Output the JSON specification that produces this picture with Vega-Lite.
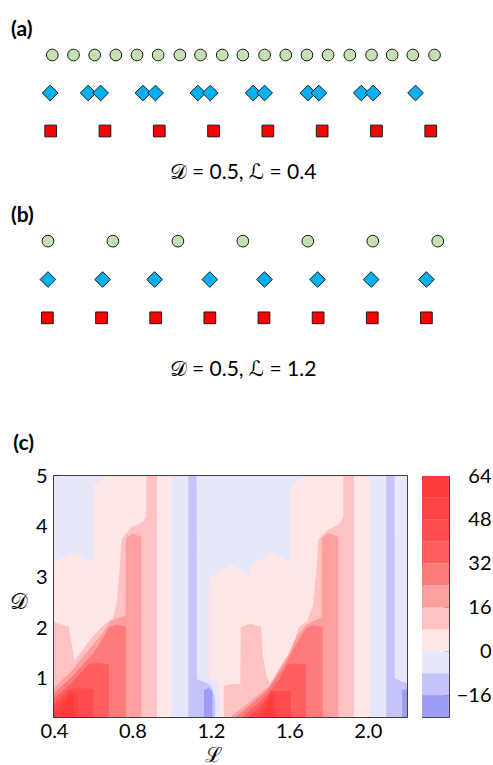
{
  "$schema": "https://vega.github.io/schema/vega-lite/v6.json",
  "padding": {"left": 8, "top": 19, "right": 0, "bottom": 0},
  "config": {
    "view": {"stroke": null},
    "font": "Lato",
    "axis": {"labelFont": "Lato", "titleFont": "Lato", "grid": false, "labelColor": "black", "titleColor": "black"},
    "title": {"font": "Lato", "fontWeight": "bold", "fontSize": 21, "anchor": "start", "color": "black"}
  },
  "datasets": {
    "a": [
      {"kind": "circle", "pos": 0.03}, {"kind": "circle", "pos": 0.42}, {"kind": "circle", "pos": 0.81}, {"kind": "circle", "pos": 1.2},
      {"kind": "circle", "pos": 1.59}, {"kind": "circle", "pos": 1.98}, {"kind": "circle", "pos": 2.38}, {"kind": "circle", "pos": 2.76},
      {"kind": "circle", "pos": 3.16}, {"kind": "circle", "pos": 3.54}, {"kind": "circle", "pos": 3.94}, {"kind": "circle", "pos": 4.33},
      {"kind": "circle", "pos": 4.72}, {"kind": "circle", "pos": 5.11}, {"kind": "circle", "pos": 5.51}, {"kind": "circle", "pos": 5.91},
      {"kind": "circle", "pos": 6.29}, {"kind": "circle", "pos": 6.67}, {"kind": "circle", "pos": 7.07},
      {"kind": "diamond", "pos": -0.01}, {"kind": "diamond", "pos": 0.69}, {"kind": "diamond", "pos": 0.92}, {"kind": "diamond", "pos": 1.7},
      {"kind": "diamond", "pos": 1.93}, {"kind": "diamond", "pos": 2.71}, {"kind": "diamond", "pos": 2.94}, {"kind": "diamond", "pos": 3.73},
      {"kind": "diamond", "pos": 3.94}, {"kind": "diamond", "pos": 4.74}, {"kind": "diamond", "pos": 4.94}, {"kind": "diamond", "pos": 5.72},
      {"kind": "diamond", "pos": 5.94}, {"kind": "diamond", "pos": 6.72},
      {"kind": "square", "pos": 0}, {"kind": "square", "pos": 1}, {"kind": "square", "pos": 2}, {"kind": "square", "pos": 3},
      {"kind": "square", "pos": 4}, {"kind": "square", "pos": 5}, {"kind": "square", "pos": 6}, {"kind": "square", "pos": 7}
    ],
    "b": [
      {"kind": "circle", "pos": 0.01}, {"kind": "circle", "pos": 1.21}, {"kind": "circle", "pos": 2.41}, {"kind": "circle", "pos": 3.61},
      {"kind": "circle", "pos": 4.81}, {"kind": "circle", "pos": 6.01}, {"kind": "circle", "pos": 7.21},
      {"kind": "diamond", "pos": 0.01}, {"kind": "diamond", "pos": 1.02}, {"kind": "diamond", "pos": 1.98}, {"kind": "diamond", "pos": 3.0},
      {"kind": "diamond", "pos": 4.01}, {"kind": "diamond", "pos": 4.99}, {"kind": "diamond", "pos": 5.98}, {"kind": "diamond", "pos": 7.0},
      {"kind": "square", "pos": 0}, {"kind": "square", "pos": 1}, {"kind": "square", "pos": 2}, {"kind": "square", "pos": 3},
      {"kind": "square", "pos": 4}, {"kind": "square", "pos": 5}, {"kind": "square", "pos": 6}, {"kind": "square", "pos": 7}
    ],
    "bar": [
      {"lvl": -24, "lo": -24, "hi": -16}, {"lvl": -16, "lo": -16, "hi": -8}, {"lvl": -8, "lo": -8, "hi": 0},
      {"lvl": 0, "lo": 0, "hi": 8}, {"lvl": 8, "lo": 8, "hi": 16}, {"lvl": 16, "lo": 16, "hi": 24},
      {"lvl": 24, "lo": 24, "hi": 32}, {"lvl": 32, "lo": 32, "hi": 40}, {"lvl": 40, "lo": 40, "hi": 48},
      {"lvl": 48, "lo": 48, "hi": 56}, {"lvl": 56, "lo": 56, "hi": 64}
    ],
    "contour": [
      {"r": "bg", "lvl": -8, "x": 0.4, "t": 5, "b": 0.25}, {"r": "bg", "lvl": -8, "x": 2.2, "t": 5, "b": 0.25},

      {"r": "b1", "lvl": -16, "x": 1.085, "t": 5, "b": 0.25}, {"r": "b1", "lvl": -16, "x": 1.127, "t": 5, "b": 0.25},
      {"r": "b1", "lvl": -16, "x": 1.128, "t": 1.0, "b": 0.25}, {"r": "b1", "lvl": -16, "x": 1.16, "t": 0.95, "b": 0.25},
      {"r": "b1", "lvl": -16, "x": 1.19, "t": 0.9, "b": 0.25}, {"r": "b1", "lvl": -16, "x": 1.205, "t": 0.82, "b": 0.25},
      {"r": "b1", "lvl": -16, "x": 1.222, "t": 0.6, "b": 0.25},
      {"r": "b2", "lvl": -16, "x": 2.094, "t": 5, "b": 0.25}, {"r": "b2", "lvl": -16, "x": 2.137, "t": 5, "b": 0.25},
      {"r": "b2", "lvl": -16, "x": 2.138, "t": 1.02, "b": 0.25}, {"r": "b2", "lvl": -16, "x": 2.17, "t": 0.95, "b": 0.25},
      {"r": "b2", "lvl": -16, "x": 2.2, "t": 0.92, "b": 0.25},

      {"r": "d1", "lvl": -24, "x": 1.165, "t": 0.78, "b": 0.25}, {"r": "d1", "lvl": -24, "x": 1.19, "t": 0.82, "b": 0.25},
      {"r": "d1", "lvl": -24, "x": 1.208, "t": 0.75, "b": 0.25},
      {"r": "d2", "lvl": -24, "x": 2.175, "t": 0.78, "b": 0.25}, {"r": "d2", "lvl": -24, "x": 2.2, "t": 0.8, "b": 0.25},

      {"r": "p0a", "lvl": 0, "x": 0.4, "t": 3.3, "b": 0.25}, {"r": "p0a", "lvl": 0, "x": 0.5, "t": 3.5, "b": 0.25},
      {"r": "p0a", "lvl": 0, "x": 0.6, "t": 3.3, "b": 0.25}, {"r": "p0a", "lvl": 0, "x": 0.601, "t": 4.8, "b": 0.25},
      {"r": "p0a", "lvl": 0, "x": 0.67, "t": 5, "b": 0.25}, {"r": "p0a", "lvl": 0, "x": 1.0, "t": 5, "b": 0.25},
      {"r": "p0b", "lvl": 0, "x": 1.19, "t": 2.95, "b": 1.04}, {"r": "p0b", "lvl": 0, "x": 1.205, "t": 3.03, "b": 1.0},
      {"r": "p0b", "lvl": 0, "x": 1.243, "t": 3.11, "b": 0.91}, {"r": "p0b", "lvl": 0, "x": 1.246, "t": 3.12, "b": 0.25},
      {"r": "p0b", "lvl": 0, "x": 1.306, "t": 3.25, "b": 0.25}, {"r": "p0b", "lvl": 0, "x": 1.4, "t": 3.05, "b": 0.25},
      {"r": "p0b", "lvl": 0, "x": 1.402, "t": 3.25, "b": 0.25}, {"r": "p0b", "lvl": 0, "x": 1.518, "t": 3.49, "b": 0.25},
      {"r": "p0b", "lvl": 0, "x": 1.604, "t": 3.29, "b": 0.25}, {"r": "p0b", "lvl": 0, "x": 1.605, "t": 4.8, "b": 0.25},
      {"r": "p0b", "lvl": 0, "x": 1.68, "t": 5, "b": 0.25}, {"r": "p0b", "lvl": 0, "x": 2.009, "t": 5, "b": 0.25},

      {"r": "p8a", "lvl": 8, "x": 0.4, "t": 2.12, "b": 0.25}, {"r": "p8a", "lvl": 8, "x": 0.475, "t": 2.03, "b": 0.25},
      {"r": "p8a", "lvl": 8, "x": 0.505, "t": 1.35, "b": 0.25}, {"r": "p8a", "lvl": 8, "x": 0.55, "t": 1.6, "b": 0.25},
      {"r": "p8a", "lvl": 8, "x": 0.6, "t": 1.85, "b": 0.25}, {"r": "p8a", "lvl": 8, "x": 0.65, "t": 2.05, "b": 0.25},
      {"r": "p8a", "lvl": 8, "x": 0.7, "t": 2.2, "b": 0.25}, {"r": "p8a", "lvl": 8, "x": 0.72, "t": 2.5, "b": 0.25},
      {"r": "p8a", "lvl": 8, "x": 0.735, "t": 3.2, "b": 0.25}, {"r": "p8a", "lvl": 8, "x": 0.745, "t": 3.75, "b": 0.25},
      {"r": "p8a", "lvl": 8, "x": 0.79, "t": 3.98, "b": 0.25}, {"r": "p8a", "lvl": 8, "x": 0.855, "t": 4.1, "b": 0.25},
      {"r": "p8a", "lvl": 8, "x": 0.87, "t": 4.2, "b": 0.25}, {"r": "p8a", "lvl": 8, "x": 0.871, "t": 5, "b": 0.25},
      {"r": "p8a", "lvl": 8, "x": 0.925, "t": 5, "b": 0.25},
      {"r": "p8b", "lvl": 8, "x": 1.266, "t": 0.86, "b": 0.25}, {"r": "p8b", "lvl": 8, "x": 1.3, "t": 0.9, "b": 0.25},
      {"r": "p8b", "lvl": 8, "x": 1.35, "t": 0.9, "b": 0.25}, {"r": "p8b", "lvl": 8, "x": 1.352, "t": 2.03, "b": 0.25},
      {"r": "p8b", "lvl": 8, "x": 1.404, "t": 2.09, "b": 0.25}, {"r": "p8b", "lvl": 8, "x": 1.456, "t": 2.03, "b": 0.25},
      {"r": "p8b", "lvl": 8, "x": 1.465, "t": 1.45, "b": 0.25}, {"r": "p8b", "lvl": 8, "x": 1.485, "t": 1.05, "b": 0.25},
      {"r": "p8b", "lvl": 8, "x": 1.5, "t": 0.9, "b": 0.25}, {"r": "p8b", "lvl": 8, "x": 1.59, "t": 1.45, "b": 0.25},
      {"r": "p8b", "lvl": 8, "x": 1.63, "t": 1.8, "b": 0.25}, {"r": "p8b", "lvl": 8, "x": 1.65, "t": 2.03, "b": 0.25},
      {"r": "p8b", "lvl": 8, "x": 1.69, "t": 2.14, "b": 0.25}, {"r": "p8b", "lvl": 8, "x": 1.72, "t": 2.45, "b": 0.25},
      {"r": "p8b", "lvl": 8, "x": 1.737, "t": 3.1, "b": 0.25}, {"r": "p8b", "lvl": 8, "x": 1.748, "t": 3.75, "b": 0.25},
      {"r": "p8b", "lvl": 8, "x": 1.8, "t": 3.95, "b": 0.25}, {"r": "p8b", "lvl": 8, "x": 1.855, "t": 4.05, "b": 0.25},
      {"r": "p8b", "lvl": 8, "x": 1.875, "t": 4.2, "b": 0.25}, {"r": "p8b", "lvl": 8, "x": 1.876, "t": 5, "b": 0.25},
      {"r": "p8b", "lvl": 8, "x": 1.929, "t": 5, "b": 0.25},

      {"r": "p16a", "lvl": 16, "x": 0.4, "t": 0.82, "b": 0.25}, {"r": "p16a", "lvl": 16, "x": 0.5, "t": 1.2, "b": 0.25},
      {"r": "p16a", "lvl": 16, "x": 0.55, "t": 1.45, "b": 0.25}, {"r": "p16a", "lvl": 16, "x": 0.6, "t": 1.68, "b": 0.25},
      {"r": "p16a", "lvl": 16, "x": 0.65, "t": 1.92, "b": 0.25}, {"r": "p16a", "lvl": 16, "x": 0.69, "t": 2.14, "b": 0.25},
      {"r": "p16a", "lvl": 16, "x": 0.765, "t": 2.25, "b": 0.25}, {"r": "p16a", "lvl": 16, "x": 0.766, "t": 3.78, "b": 0.25},
      {"r": "p16a", "lvl": 16, "x": 0.8, "t": 3.87, "b": 0.25}, {"r": "p16a", "lvl": 16, "x": 0.845, "t": 3.8, "b": 0.25},
      {"r": "p16b", "lvl": 16, "x": 1.3, "t": 0.25, "b": 0.25}, {"r": "p16b", "lvl": 16, "x": 1.4, "t": 0.55, "b": 0.25},
      {"r": "p16b", "lvl": 16, "x": 1.47, "t": 0.78, "b": 0.25}, {"r": "p16b", "lvl": 16, "x": 1.5, "t": 0.85, "b": 0.25},
      {"r": "p16b", "lvl": 16, "x": 1.55, "t": 1.2, "b": 0.25}, {"r": "p16b", "lvl": 16, "x": 1.6, "t": 1.5, "b": 0.25},
      {"r": "p16b", "lvl": 16, "x": 1.64, "t": 1.85, "b": 0.25}, {"r": "p16b", "lvl": 16, "x": 1.69, "t": 2.08, "b": 0.25},
      {"r": "p16b", "lvl": 16, "x": 1.765, "t": 2.22, "b": 0.25}, {"r": "p16b", "lvl": 16, "x": 1.766, "t": 3.78, "b": 0.25},
      {"r": "p16b", "lvl": 16, "x": 1.8, "t": 3.87, "b": 0.25}, {"r": "p16b", "lvl": 16, "x": 1.85, "t": 3.8, "b": 0.25},

      {"r": "p24a", "lvl": 24, "x": 0.4, "t": 0.72, "b": 0.25}, {"r": "p24a", "lvl": 24, "x": 0.5, "t": 1.08, "b": 0.25},
      {"r": "p24a", "lvl": 24, "x": 0.55, "t": 1.3, "b": 0.25}, {"r": "p24a", "lvl": 24, "x": 0.6, "t": 1.5, "b": 0.25},
      {"r": "p24a", "lvl": 24, "x": 0.64, "t": 1.75, "b": 0.25}, {"r": "p24a", "lvl": 24, "x": 0.68, "t": 2.02, "b": 0.25},
      {"r": "p24a", "lvl": 24, "x": 0.72, "t": 2.07, "b": 0.25}, {"r": "p24a", "lvl": 24, "x": 0.766, "t": 2.03, "b": 0.25},
      {"r": "p24b", "lvl": 24, "x": 1.33, "t": 0.25, "b": 0.25}, {"r": "p24b", "lvl": 24, "x": 1.42, "t": 0.55, "b": 0.25},
      {"r": "p24b", "lvl": 24, "x": 1.48, "t": 0.75, "b": 0.25}, {"r": "p24b", "lvl": 24, "x": 1.53, "t": 1.0, "b": 0.25},
      {"r": "p24b", "lvl": 24, "x": 1.58, "t": 1.3, "b": 0.25}, {"r": "p24b", "lvl": 24, "x": 1.63, "t": 1.65, "b": 0.25},
      {"r": "p24b", "lvl": 24, "x": 1.685, "t": 2.0, "b": 0.25}, {"r": "p24b", "lvl": 24, "x": 1.72, "t": 2.06, "b": 0.25},
      {"r": "p24b", "lvl": 24, "x": 1.77, "t": 2.02, "b": 0.25},

      {"r": "p32a", "lvl": 32, "x": 0.4, "t": 0.62, "b": 0.25}, {"r": "p32a", "lvl": 32, "x": 0.47, "t": 0.85, "b": 0.25},
      {"r": "p32a", "lvl": 32, "x": 0.52, "t": 1.05, "b": 0.25}, {"r": "p32a", "lvl": 32, "x": 0.56, "t": 1.22, "b": 0.25},
      {"r": "p32a", "lvl": 32, "x": 0.578, "t": 1.3, "b": 0.25}, {"r": "p32a", "lvl": 32, "x": 0.63, "t": 1.32, "b": 0.25},
      {"r": "p32a", "lvl": 32, "x": 0.68, "t": 1.28, "b": 0.25},
      {"r": "p32b", "lvl": 32, "x": 1.36, "t": 0.25, "b": 0.25}, {"r": "p32b", "lvl": 32, "x": 1.45, "t": 0.55, "b": 0.25},
      {"r": "p32b", "lvl": 32, "x": 1.5, "t": 0.75, "b": 0.25}, {"r": "p32b", "lvl": 32, "x": 1.55, "t": 1.0, "b": 0.25},
      {"r": "p32b", "lvl": 32, "x": 1.587, "t": 1.28, "b": 0.25}, {"r": "p32b", "lvl": 32, "x": 1.63, "t": 1.31, "b": 0.25},
      {"r": "p32b", "lvl": 32, "x": 1.685, "t": 1.28, "b": 0.25},

      {"r": "p40a", "lvl": 40, "x": 0.4, "t": 0.5, "b": 0.25}, {"r": "p40a", "lvl": 40, "x": 0.44, "t": 0.65, "b": 0.25},
      {"r": "p40a", "lvl": 40, "x": 0.47, "t": 0.78, "b": 0.25}, {"r": "p40a", "lvl": 40, "x": 0.5, "t": 0.82, "b": 0.25},
      {"r": "p40a", "lvl": 40, "x": 0.6, "t": 0.8, "b": 0.25},
      {"r": "p40b", "lvl": 40, "x": 1.39, "t": 0.25, "b": 0.25}, {"r": "p40b", "lvl": 40, "x": 1.45, "t": 0.45, "b": 0.25},
      {"r": "p40b", "lvl": 40, "x": 1.49, "t": 0.65, "b": 0.25}, {"r": "p40b", "lvl": 40, "x": 1.505, "t": 0.76, "b": 0.25},
      {"r": "p40b", "lvl": 40, "x": 1.608, "t": 0.76, "b": 0.25},

      {"r": "p48a", "lvl": 48, "x": 0.4, "t": 0.42, "b": 0.25}, {"r": "p48a", "lvl": 48, "x": 0.45, "t": 0.6, "b": 0.25},
      {"r": "p48a", "lvl": 48, "x": 0.48, "t": 0.76, "b": 0.25}, {"r": "p48a", "lvl": 48, "x": 0.52, "t": 0.76, "b": 0.25},
      {"r": "p48b", "lvl": 48, "x": 1.42, "t": 0.25, "b": 0.25}, {"r": "p48b", "lvl": 48, "x": 1.47, "t": 0.45, "b": 0.25},
      {"r": "p48b", "lvl": 48, "x": 1.5, "t": 0.7, "b": 0.25}, {"r": "p48b", "lvl": 48, "x": 1.53, "t": 0.74, "b": 0.25},

      {"r": "p56a", "lvl": 56, "x": 0.4, "t": 0.33, "b": 0.25}, {"r": "p56a", "lvl": 56, "x": 0.45, "t": 0.5, "b": 0.25},
      {"r": "p56a", "lvl": 56, "x": 0.48, "t": 0.7, "b": 0.25}, {"r": "p56a", "lvl": 56, "x": 0.5, "t": 0.7, "b": 0.25},
      {"r": "p56b", "lvl": 56, "x": 1.45, "t": 0.25, "b": 0.25}, {"r": "p56b", "lvl": 56, "x": 1.49, "t": 0.5, "b": 0.25},
      {"r": "p56b", "lvl": 56, "x": 1.5, "t": 0.68, "b": 0.25}, {"r": "p56b", "lvl": 56, "x": 1.515, "t": 0.68, "b": 0.25}
    ]
  },
  "spacing": 54,
  "vconcat": [
    {
      "spacing": 23,
      "vconcat": [
        {
          "title": {"text": "(a)", "frame": "group", "dx": -43, "offset": -4},
          "width": 377,
          "height": 114,
          "data": {"name": "a"},
          "mark": {"type": "point", "filled": true, "stroke": "#1a1a1a", "strokeWidth": 1, "opacity": 1},
          "encoding": {
            "x": {"field": "pos", "type": "quantitative", "scale": {"domain": [0.061, 7.005], "nice": false, "zero": false},
                  "axis": {"title": "𝒟 = 0.5, ℒ = 0.4", "labels": false, "ticks": false, "domain": false, "titleFontSize": 21, "titleFontWeight": "normal", "titlePadding": 11, "titleFont": "Lato, DejaVu Sans"}},
            "y": {"field": "kind", "type": "nominal", "scale": {"domain": ["circle", "diamond", "square"], "padding": 0.5}, "axis": null},
            "shape": {"field": "kind", "type": "nominal", "scale": {"domain": ["circle", "diamond", "square"], "range": ["circle", "diamond", "square"]}, "legend": null},
            "fill": {"field": "kind", "type": "nominal", "scale": {"domain": ["circle", "diamond", "square"], "range": ["#c5e0b3", "#00b0f0", "#ff0000"]}, "legend": null},
            "size": {"field": "kind", "type": "nominal", "scale": {"type": "ordinal", "domain": ["circle", "diamond", "square"], "range": [137, 246, 137]}, "legend": null}
          }
        },
        {
          "title": {"text": "(b)", "frame": "group", "dx": -43, "offset": -4},
          "width": 377,
          "height": 115,
          "data": {"name": "b"},
          "mark": {"type": "point", "filled": true, "stroke": "#1a1a1a", "strokeWidth": 1, "opacity": 1},
          "encoding": {
            "x": {"field": "pos", "type": "quantitative", "scale": {"domain": [0.122, 7.085], "nice": false, "zero": false},
                  "axis": {"title": "𝒟 = 0.5, ℒ = 1.2", "labels": false, "ticks": false, "domain": false, "titleFontSize": 21, "titleFontWeight": "normal", "titlePadding": 21, "titleFont": "Lato, DejaVu Sans"}},
            "y": {"field": "kind", "type": "nominal", "scale": {"domain": ["circle", "diamond", "square"], "padding": 0.5}, "axis": null},
            "shape": {"field": "kind", "type": "nominal", "scale": {"domain": ["circle", "diamond", "square"], "range": ["circle", "diamond", "square"]}, "legend": null},
            "fill": {"field": "kind", "type": "nominal", "scale": {"domain": ["circle", "diamond", "square"], "range": ["#c5e0b3", "#00b0f0", "#ff0000"]}, "legend": null},
            "size": {"field": "kind", "type": "nominal", "scale": {"type": "ordinal", "domain": ["circle", "diamond", "square"], "range": [137, 246, 137]}, "legend": null}
          }
        }
      ]
    },
    {
      "title": {"text": "(c)", "offset": 11, "dx": 5},
      "spacing": 13,
      "hconcat": [
        {
          "width": 353,
          "height": 241,
          "view": {"stroke": "black", "strokeWidth": 1.5},
          "data": {"name": "contour"},
          "encoding": {
            "x": {"field": "x", "type": "quantitative", "scale": {"domain": [0.4, 2.2], "nice": false, "zero": false},
                  "axis": {"title": "ℒ", "values": [0.4, 0.6, 0.8, 1.0, 1.2, 1.4, 1.6, 1.8, 2.0], "format": ".1f",
                           "labelExpr": "(round(datum.value*10) % 4 == 0) ? datum.label : ''",
                           "labelFlush": false, "labelOverlap": false, "domain": false,
                           "tickSize": -5, "tickColor": "black", "tickWidth": 1.5,
                           "labelFontSize": 20, "labelPadding": 9,
                           "titleFontSize": 21, "titleFontWeight": "normal", "titleFont": "DejaVu Serif",
                           "titleX": 159, "titleY": 38, "titleBaseline": "middle", "titleAlign": "center"}},
            "y": {"field": "t", "type": "quantitative", "stack": null, "scale": {"domain": [0.25, 5], "nice": false, "zero": false},
                  "axis": {"title": "𝒟", "values": [0.5, 1, 1.5, 2, 2.5, 3, 3.5, 4, 4.5, 5],
                           "labelExpr": "(datum.value % 1 == 0) ? format(datum.value, 'd') : ''",
                           "labelOverlap": false, "labelFlush": false, "domain": false,
                           "tickSize": -5, "tickColor": "black", "tickWidth": 1.5,
                           "labelFontSize": 20, "labelPadding": 12,
                           "titleFontSize": 22, "titleFontWeight": "normal", "titleFont": "DejaVu Serif", "titleAngle": 0,
                           "titleX": -36, "titleY": 125, "titleAlign": "center", "titleBaseline": "middle"}},
            "y2": {"field": "b"},
            "color": {"field": "lvl", "type": "ordinal",
                      "scale": {"domain": [-24, -16, -8, 0, 8, 16, 24, 32, 40, 48, 56],
                                "range": ["#9d9df5", "#c4c4fb", "#e7e7fb", "#ffe7e7", "#ffc2c2", "#ff9e9e", "#ff7b7b", "#ff5f5f", "#ff4c4c", "#ff4444", "#ff3c3c"]},
                      "legend": null},
            "detail": {"field": "r"}
          },
          "layer": [
            {"transform": [{"filter": "datum.lvl == -8"}], "mark": {"type": "area", "orient": "vertical"}},
            {"transform": [{"filter": "datum.lvl == -16"}], "mark": {"type": "area", "orient": "vertical"}},
            {"transform": [{"filter": "datum.lvl == -24"}], "mark": {"type": "area", "orient": "vertical"}},
            {"transform": [{"filter": "datum.lvl == 0"}], "mark": {"type": "area", "orient": "vertical"}},
            {"transform": [{"filter": "datum.lvl == 8"}], "mark": {"type": "area", "orient": "vertical"}},
            {"transform": [{"filter": "datum.lvl == 16"}], "mark": {"type": "area", "orient": "vertical"}},
            {"transform": [{"filter": "datum.lvl == 24"}], "mark": {"type": "area", "orient": "vertical"}},
            {"transform": [{"filter": "datum.lvl == 32"}], "mark": {"type": "area", "orient": "vertical"}},
            {"transform": [{"filter": "datum.lvl == 40"}], "mark": {"type": "area", "orient": "vertical"}},
            {"transform": [{"filter": "datum.lvl == 48"}], "mark": {"type": "area", "orient": "vertical"}},
            {"transform": [{"filter": "datum.lvl == 56"}], "mark": {"type": "area", "orient": "vertical"}}
          ]
        },
        {
          "width": 27,
          "height": 241,
          "view": {"stroke": "#444", "strokeWidth": 1},
          "data": {"name": "bar"},
          "mark": {"type": "rect"},
          "encoding": {
            "y": {"field": "lo", "type": "quantitative", "scale": {"domain": [-24, 64], "nice": false, "zero": false},
                  "axis": {"orient": "right", "title": null, "values": [-16, 0, 16, 32, 48, 64], "domain": false,
                           "tickSize": -5, "tickColor": "#333", "labelPadding": 47, "labelAlign": "right",
                           "labelFontSize": 20, "labelOverlap": false, "labelFlush": false}},
            "y2": {"field": "hi"},
            "color": {"field": "lvl", "type": "ordinal",
                      "scale": {"domain": [-24, -16, -8, 0, 8, 16, 24, 32, 40, 48, 56],
                                "range": ["#9d9df5", "#c4c4fb", "#e7e7fb", "#ffe7e7", "#ffc2c2", "#ff9e9e", "#ff7b7b", "#ff5f5f", "#ff4c4c", "#ff4444", "#ff3c3c"]},
                      "legend": null}
          }
        }
      ]
    }
  ]
}
